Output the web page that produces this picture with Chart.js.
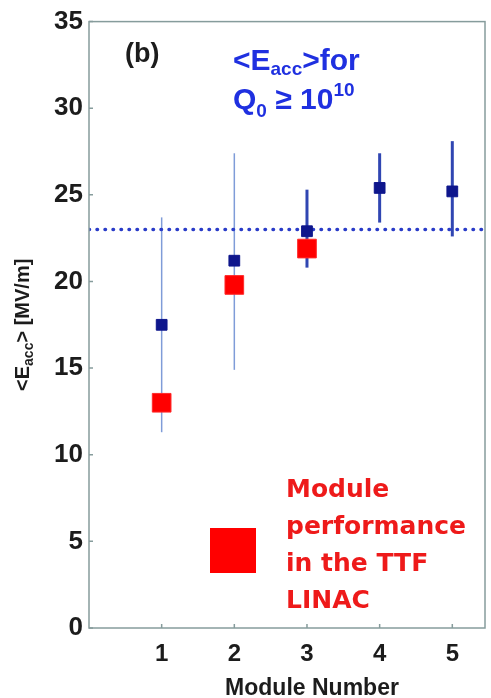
<!DOCTYPE html>
<html>
<head>
<meta charset="utf-8">
<script src="https://cdn.jsdelivr.net/npm/chart.js@4"></script>
<style>
  html, body { margin: 0; padding: 0; background: #fff; }
  canvas { display: block; }
</style>
</head>
<body>
<canvas id="chart" width="491" height="698"></canvas>
<script>
//Data
const modules = [1, 2, 3, 4, 5];
const meanEacc = [17.5, 21.2, 22.9, 25.4, 25.2];
const errLow = [11.3, 14.9, 20.8, 23.4, 22.6];
const errHigh = [23.7, 27.4, 25.3, 27.4, 28.1];
const linacModules = [1, 2, 3];
const linacEacc = [13.0, 19.8, 21.9];
const refLevel = 23.0;
const xRange = [0, 5.45];
const xTicks = [1, 2, 3, 4, 5];
const yTicks = [0, 5, 10, 15, 20, 25, 30, 35];
const legendLines = ['Module', 'performance', 'in the TTF', 'LINAC'];

const SANS = '"Liberation Sans", Arial, sans-serif';
const BOX_COLOR = '#869c9c';

/**
 * Draws a row of text pieces (for sub/superscripts), left aligned at x.
 */
function drawRuns(ctx, x, y, runs, color) {
    ctx.fillStyle = color;
    ctx.textBaseline = 'alphabetic';
    ctx.textAlign = 'left';
    let cx = x;
    runs.forEach(r => {
        ctx.font = `bold ${r.size}px ${SANS}`;
        ctx.fillText(r.t, cx, y + (r.dy || 0));
        cx += ctx.measureText(r.t).width;
    });
    return cx - x;
}

function runsWidth(ctx, runs) {
    let w = 0;
    runs.forEach(r => {
        ctx.font = `bold ${r.size}px ${SANS}`;
        w += ctx.measureText(r.t).width;
    });
    return w;
}

const overlay = {
    id: 'overlay',
    beforeDatasetsDraw(chart) {
        const {ctx, scales: {x, y}} = chart;
        ctx.save();
        modules.forEach((m, i) => {
            const px = x.getPixelForValue(m);
            ctx.strokeStyle = m >= 3 ? '#3046b2' : '#7f9cd8';
            ctx.lineWidth = m >= 3 ? 3 : 1.5;
            ctx.beginPath();
            ctx.moveTo(px, y.getPixelForValue(errLow[i]));
            ctx.lineTo(px, y.getPixelForValue(errHigh[i]));
            ctx.stroke();
        });
        ctx.restore();
    },
    afterDraw(chart) {
        const {ctx, chartArea: a, scales: {x, y}} = chart;
        ctx.save();

        // plot box + inside ticks
        ctx.strokeStyle = BOX_COLOR;
        ctx.lineWidth = 1.5;
        ctx.strokeRect(a.left, a.top, a.right - a.left, a.bottom - a.top);
        ctx.beginPath();
        yTicks.forEach(v => {
            const py = y.getPixelForValue(v);
            ctx.moveTo(a.left, py);
            ctx.lineTo(a.left + 4, py);
        });
        xTicks.forEach(v => {
            const px = x.getPixelForValue(v);
            ctx.moveTo(px, a.bottom);
            ctx.lineTo(px, a.bottom - 4);
        });
        ctx.stroke();

        // panel label
        drawRuns(ctx, 125, 62, [{t: '(b)', size: 27}], '#1c1c1c');

        // blue annotation
        const blue = '#1f30e0';
        drawRuns(ctx, 233, 70, [
            {t: '<E', size: 30},
            {t: 'acc', size: 19, dy: 5},
            {t: '>for', size: 30}
        ], blue);
        drawRuns(ctx, 233, 109, [
            {t: 'Q', size: 30},
            {t: '0', size: 19, dy: 8},
            {t: ' \u2265 10', size: 30},
            {t: '10', size: 19, dy: -13}
        ], blue);

        // y axis title, rotated
        const yRuns = [
            {t: '<E', size: 20},
            {t: 'acc', size: 14, dy: 4},
            {t: '> [MV/m]', size: 20}
        ];
        const yw = runsWidth(ctx, yRuns);
        ctx.save();
        ctx.translate(29, (a.top + a.bottom) / 2);
        ctx.rotate(-Math.PI / 2);
        drawRuns(ctx, -yw / 2, 0, yRuns, '#1c1c1c');
        ctx.restore();

        // x axis title
        ctx.font = `bold 23px ${SANS}`;
        ctx.fillStyle = '#1c1c1c';
        ctx.textAlign = 'center';
        ctx.textBaseline = 'alphabetic';
        ctx.fillText('Module Number', 312, 695);

        // legend
        ctx.fillStyle = '#ff0000';
        ctx.fillRect(210, 528, 46, 45);
        ctx.fillStyle = '#ee1a1a';
        ctx.textAlign = 'left';
        ctx.font = 'bold 25px "DejaVu Sans", sans-serif';
        legendLines.forEach((line, i) => {
            ctx.fillText(line, 286, 497 + i * 37);
        });

        ctx.restore();
    }
};

new Chart(document.getElementById('chart'), {
    type: 'scatter',
    data: {
        datasets: [
            {
                label: 'Module performance in the TTF LINAC',
                data: linacModules.map((m, i) => ({x: m, y: linacEacc[i]})),
                pointStyle: 'rect',
                pointRadius: 13.2,
                backgroundColor: '#ff0000',
                borderColor: '#ff2a2a',
                borderWidth: 1,
                order: 0
            },
            {
                label: '<Eacc> for Q0 >= 1e10',
                data: modules.map((m, i) => ({x: m, y: meanEacc[i]})),
                pointStyle: 'rect',
                pointRadius: 7.6,
                backgroundColor: '#0e168c',
                borderColor: '#0e168c',
                borderWidth: 1,
                order: 1
            },
            {
                type: 'line',
                label: 'reference',
                data: xRange.map(v => ({x: v, y: refLevel})),
                borderColor: '#2a3cc8',
                borderWidth: 3.5,
                borderDash: [0.5, 7.5],
                borderCapStyle: 'round',
                pointRadius: 0,
                fill: false,
                order: 2
            }
        ]
    },
    options: {
        responsive: false,
        animation: false,
        devicePixelRatio: 1,
        layout: {
            autoPadding: false,
            padding: {top: 17, right: 6, left: 0, bottom: 0}
        },
        plugins: {
            legend: {display: false},
            tooltip: {enabled: false}
        },
        scales: {
            x: {
                type: 'linear',
                min: xRange[0],
                max: xRange[1],
                grid: {display: false, drawTicks: false},
                border: {display: false},
                afterBuildTicks: (scale) => {
                    scale.ticks = xTicks.map(v => ({value: v}));
                },
                afterFit: (scale) => { scale.height = 70; },
                ticks: {
                    padding: 12,
                    color: '#1c1c1c',
                    font: {family: SANS, size: 24, weight: 'bold'}
                }
            },
            y: {
                min: 0,
                max: 35,
                grid: {display: false, drawTicks: false},
                border: {display: false},
                afterBuildTicks: (scale) => {
                    scale.ticks = yTicks.map(v => ({value: v}));
                },
                afterFit: (scale) => { scale.width = 89; },
                ticks: {
                    padding: 6,
                    color: '#1c1c1c',
                    font: {family: SANS, size: 26, weight: 'bold'}
                }
            }
        }
    },
    plugins: [overlay]
});
</script>
</body>
</html>
